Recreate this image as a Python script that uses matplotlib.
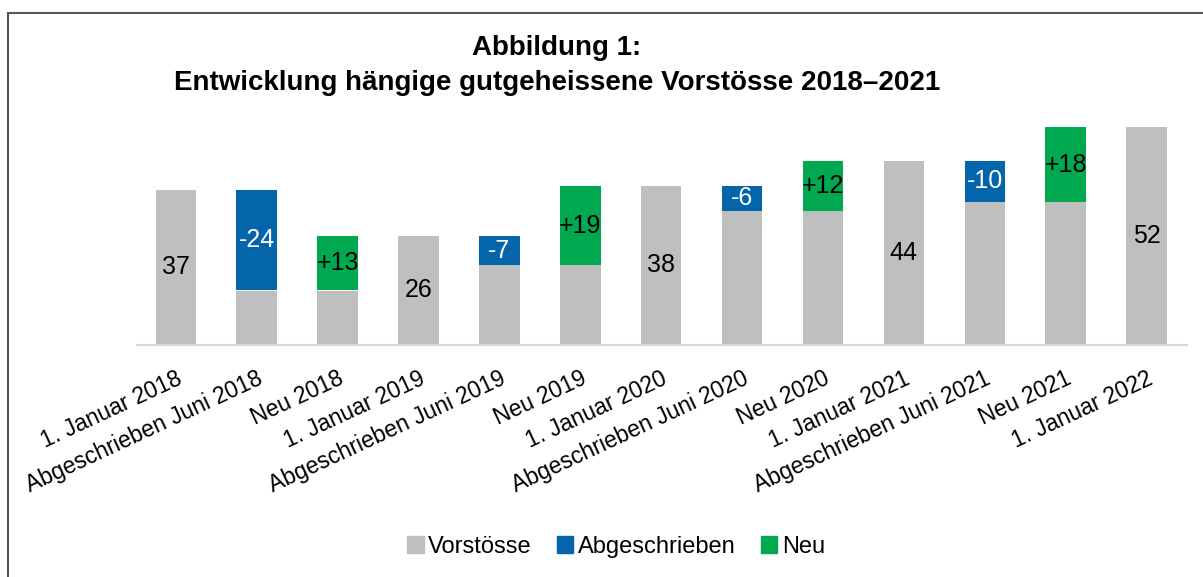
import matplotlib.pyplot as plt
from matplotlib.patches import Rectangle, Patch

plt.rcParams['font.family'] = ['Liberation Sans', 'DejaVu Sans']

labels = ['1. Januar 2018', 'Abgeschrieben Juni 2018', 'Neu 2018',
          '1. Januar 2019', 'Abgeschrieben Juni 2019', 'Neu 2019',
          '1. Januar 2020', 'Abgeschrieben Juni 2020', 'Neu 2020',
          '1. Januar 2021', 'Abgeschrieben Juni 2021', 'Neu 2021',
          '1. Januar 2022']
vorstoesse = [37, 13, 13, 26, 19, 19, 38, 32, 32, 44, 34, 34, 52]
abgeschrieben = [0, 24, 0, 0, 7, 0, 0, 6, 0, 0, 10, 0, 0]
neu = [0, 0, 13, 0, 0, 19, 0, 0, 12, 0, 0, 18, 0]
# which gray bars carry a value label (the stock bars)
stock = [True, False, False, True, False, False, True, False, False, True, False, False, True]

c_gray = '#BFBFBF'
c_blue = '#0565AA'
c_green = '#00A84F'

fig = plt.figure(figsize=(12.03, 5.77), dpi=100)
ax = fig.add_axes([137 / 1203, 1 - 345 / 577, 1050 / 1203, 218 / 577])

x = range(len(labels))
w = 0.5
ax.bar(x, vorstoesse, w, color=c_gray, label='Vorstösse')
ax.bar(x, abgeschrieben, w, bottom=vorstoesse, color=c_blue, label='Abgeschrieben')
ax.bar(x, neu, w, bottom=vorstoesse, color=c_green, label='Neu')

fs = 18
for i in x:
    if stock[i]:
        ax.text(i, vorstoesse[i] / 2, str(vorstoesse[i]), ha='center', va='center',
                fontsize=fs, color='black')
    if abgeschrieben[i]:
        ax.text(i, vorstoesse[i] + abgeschrieben[i] / 2, '-%d' % abgeschrieben[i],
                ha='center', va='center', fontsize=fs, color='white')
    if neu[i]:
        ax.text(i, vorstoesse[i] + neu[i] / 2, '+%d' % neu[i],
                ha='center', va='center', fontsize=fs, color='black')

ax.set_xlim(-0.48, 12.5)
ax.set_ylim(0, 52)
ax.set_yticks([])
for s in ['top', 'right', 'left']:
    ax.spines[s].set_visible(False)
ax.spines['bottom'].set_color('#D9D9D9')
ax.spines['bottom'].set_linewidth(1.5)
ax.set_xticks(list(x))
ax.set_xticklabels(labels, rotation=25, ha='right', rotation_mode='anchor', fontsize=16.5)
ax.tick_params(axis='x', length=0, pad=16)

fig.text(557 / 1203, 1 - 48 / 577, 'Abbildung 1:', ha='center', va='center',
         fontsize=20, fontweight='bold')
fig.text(557 / 1203, 1 - 83 / 577, 'Entwicklung hängige gutgeheissene Vorstösse 2018\u20132021',
         ha='center', va='center', fontsize=20, fontweight='bold')

handles = [Patch(color=c_gray), Patch(color=c_blue), Patch(color=c_green)]
fig.legend(handles, ['Vorstösse', 'Abgeschrieben', 'Neu'], loc='center',
           bbox_to_anchor=(616 / 1203, 1 - 547 / 577), ncol=3, frameon=False,
           fontsize=17, handlelength=0.7, handleheight=0.7, handletextpad=0.2,
           columnspacing=1.05)

fig.patches.append(Rectangle((8 / 1203, -0.1), 1.2, 1 - 13 / 577 + 0.1,
                             transform=fig.transFigure, fill=False,
                             edgecolor='#555555', linewidth=1.5))

fig.savefig('out.png', dpi=100)
